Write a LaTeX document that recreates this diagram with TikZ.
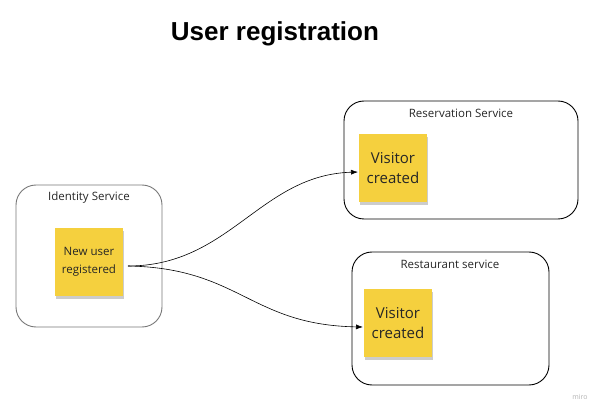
\documentclass[tikz,border=0pt]{standalone}
\usepackage{fontspec}
\setmainfont{Open Sans}
\newfontfamily\titlefont{Liberation Sans}
\usetikzlibrary{shadows,arrows.meta}
\definecolor{sticky}{RGB}{245,208,62}
\definecolor{graybd}{RGB}{120,120,120}
\begin{document}
\begin{tikzpicture}[x=1pt,y=-1pt,
  svc/.style={draw=#1, line width=0.9pt, rounded corners=20pt},
  svctitle/.style={font=\fontsize{11.5}{13}\selectfont, text=black!85, anchor=center},
  note/.style={fill=sticky, text=black!85, minimum width=68pt, minimum height=68pt, inner sep=0pt, align=center,
    drop shadow={shadow xshift=1pt, shadow yshift=-3pt, opacity=0.2, fill=black}},
  link/.style={-{Latex[length=7pt,width=5pt]}, line width=0.6pt, black}]
\useasboundingbox (0,0) rectangle (603,414);
\node[font=\titlefont\bfseries\fontsize{26}{30}\selectfont] (title) at (275,34) {User registration};
% boxes
\draw[svc=graybd] (16,185) rectangle (162,327);
\node[svctitle] (idt) at (89,198) {Identity Service};
\draw[svc=black] (344,101) rectangle (578,219);
\node[svctitle] (rest) at (461,113) {Reservation Service};
\draw[svc=black] (352,252) rectangle (549,385);
\node[svctitle] (rst) at (450,264) {Restaurant service};
% notes
\node[note, font=\fontsize{11.5}{17.5}\selectfont] (nu) at (89,262) {New user\\registered};
\node[note, font=\fontsize{15}{20.5}\selectfont] (v1) at (393,168) {Visitor\\created};
\node[note, font=\fontsize{15}{20.5}\selectfont] (v2) at (398,323) {Visitor\\created};
\coordinate (s) at (128,266);
\coordinate (e1) at (358,172);
\coordinate (e2) at (363,327);
\draw[link] (s) .. controls (230,266) and (260,175) .. (e1);
\draw[link] (s) .. controls (240,268) and (250,325) .. (e2);
\node[font=\fontsize{7}{8}\selectfont, text=black!30] (miro) at (580,397) {miro};
\end{tikzpicture}
\end{document}
